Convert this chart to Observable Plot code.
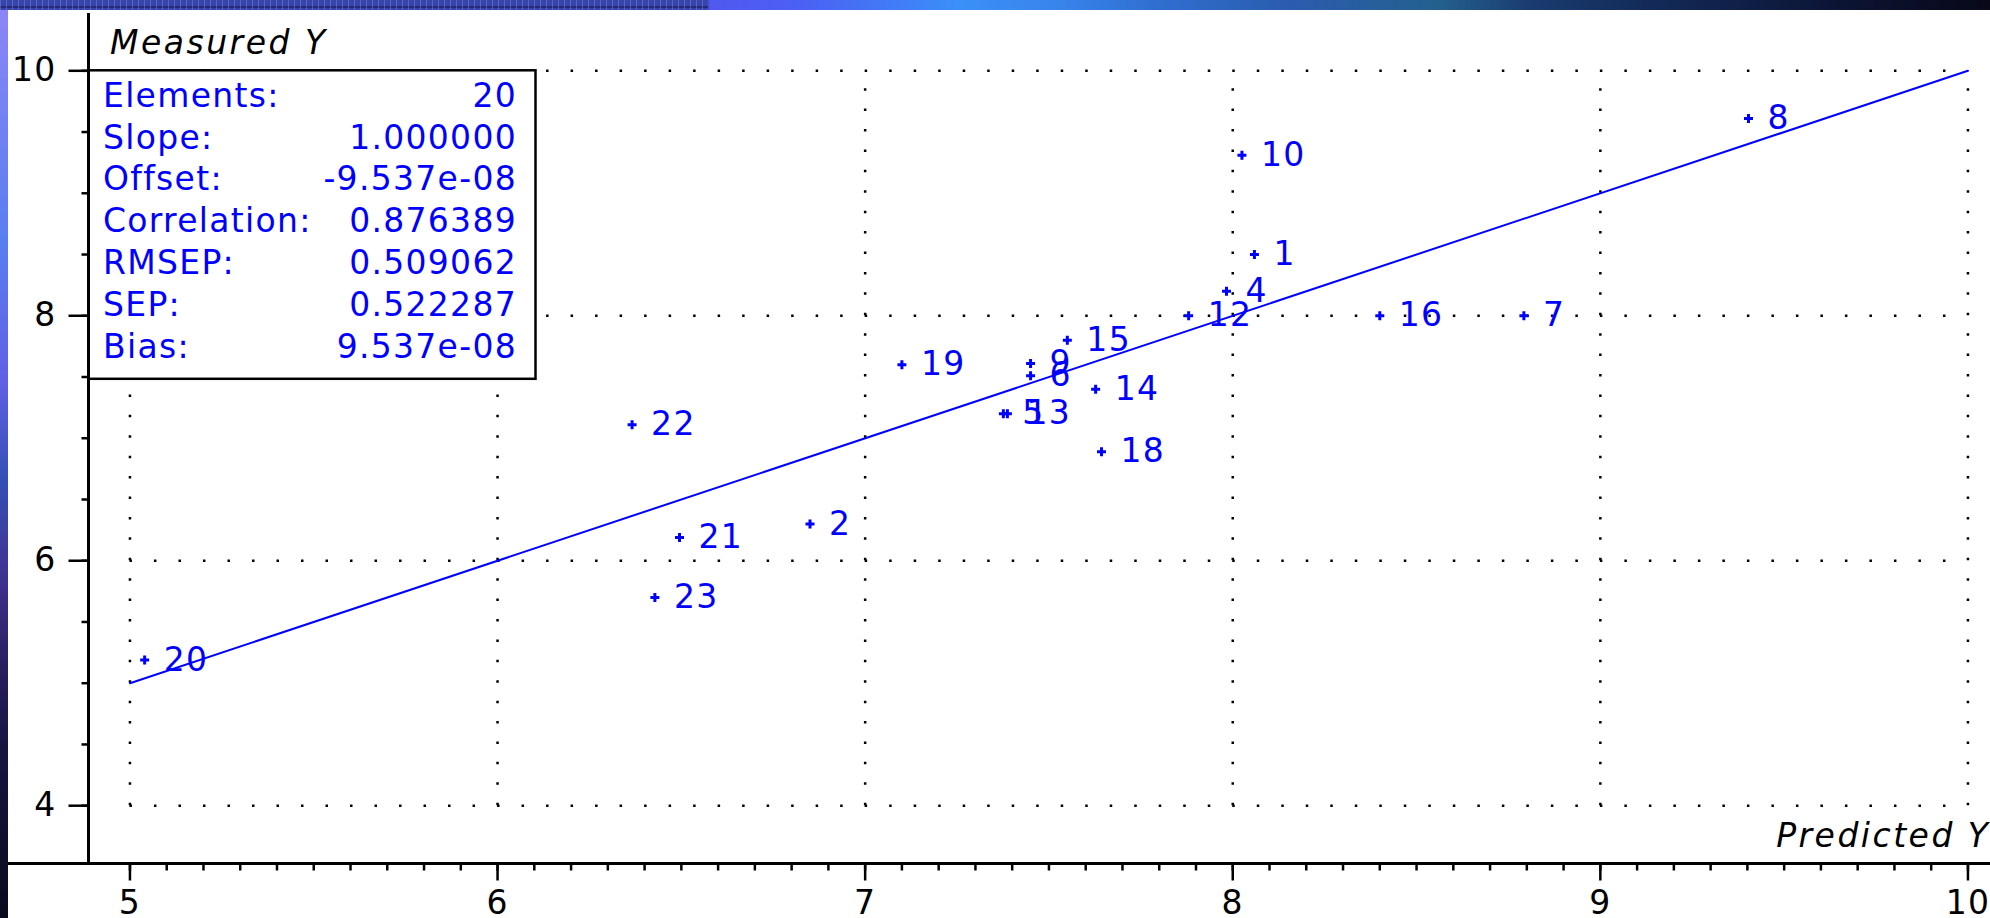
<!DOCTYPE html>
<html>
<head>
<meta charset="utf-8">
<title>Measured vs Predicted Y</title>
<script src="https://cdn.jsdelivr.net/npm/d3@7"></script>
<script src="https://cdn.jsdelivr.net/npm/@observablehq/plot@0.6"></script>
<style>
  html, body { margin: 0; padding: 0; background: #ffffff; }
  #slide { position: relative; width: 1990px; height: 918px; overflow: hidden; background: #ffffff; }
  #topbar {
    position: absolute; left: 0; top: 0; width: 1990px; height: 10px;
    background: linear-gradient(to right,
      #3846ac 0px, #3846ac 707px, #5058f0 710px, #4c60f4 800px, #3a90f8 960px,
      #3884ec 1060px, #3070d2 1150px, #2a5cae 1290px, #24608e 1440px, #1a3c70 1530px,
      #132a58 1650px, #0c1434 1840px, #080818 1990px);
  }
  #topbar .check {
    position: absolute; left: 0; top: 0; width: 708px; height: 10px;
    background:
      repeating-linear-gradient(to right, rgba(120,140,230,0.45) 0 1px, transparent 1px 6px),
      linear-gradient(to bottom, transparent 0 6px, rgba(20,20,80,0.55) 6px 8px, transparent 8px);
  }
  #leftbar {
    position: absolute; left: 0; top: 10px; width: 8px; height: 908px;
    background: linear-gradient(to bottom,
      #8c86f6 0px, #7282f2 110px, #5a7ef0 230px, #6060e6 370px, #3450b4 470px,
      #403494 560px, #2a2062 650px, #151540 740px, #0a0a1e 908px);
  }
  #chart { position: absolute; left: 0; top: 0; }
  #chart svg text { letter-spacing: 1.3px; }
  #chart svg .axis-title text { letter-spacing: 2.5px; }
</style>
</head>
<body>
<div id="slide">
  <div id="chart"></div>
  <div id="topbar"><div class="check"></div></div>
  <div id="leftbar"></div>
</div>
<script>
// Sample identifiers with their predicted and measured Y values
const ids = ["1", "2", "4", "5", "6", "7", "8", "9", "10", "12",
             "13", "14", "15", "16", "18", "19", "20", "21", "22", "23"];
const predicted = [8.059, 6.850, 7.983, 7.376, 7.450, 8.792, 9.403, 7.450, 8.025, 7.880,
                   7.387, 7.627, 7.550, 8.400, 7.643, 7.100, 5.040, 6.495, 6.366, 6.428];
const measured = [8.50, 6.30, 8.20, 7.20, 7.51, 8.00, 9.61, 7.61, 9.31, 8.00,
                  7.20, 7.40, 7.80, 8.00, 6.89, 7.60, 5.19, 6.19, 7.11, 5.70];

// Axis ticks
const xTicks = [5, 6, 7, 8, 9, 10];
const yTicks = [4, 6, 8, 10];
const xMinorTicks = d3.ticks(5, 10, 50);
const yMinorTicks = d3.ticks(4, 10, 12);

// Regression statistics shown in the panel
const statNames = ["Elements:", "Slope:", "Offset:", "Correlation:", "RMSEP:", "SEP:", "Bias:"];
const statValues = ["20", "1.000000", "-9.537e-08", "0.876389", "0.509062", "0.522287", "9.537e-08"];
const slope = 1.0;
const offset = -9.537e-08;
const fitX = [5, 10];

const blue = "#0000ff";
const samples = ids.map((id, i) => ({id, pred: predicted[i], meas: measured[i]}));
const fitLine = fitX.map(x => ({x, y: slope * x + offset}));

// Axis lines: the horizontal one runs under the y axis out to the slide edge
function axisLines(index, scales, values, {width, height, marginLeft, marginTop, marginBottom}) {
  const g = d3.create("svg:g").attr("stroke", "black").attr("stroke-width", 3);
  const yb = height - marginBottom;
  g.append("line").attr("x1", 8).attr("x2", width).attr("y1", yb).attr("y2", yb);
  g.append("line").attr("x1", marginLeft).attr("x2", marginLeft).attr("y1", marginTop).attr("y2", yb);
  return g.node();
}

// Statistics panel pinned to the top-left corner of the grid
function statsPanel(index, {y}, values, {marginLeft}) {
  const g = d3.create("svg:g");
  const left = marginLeft, top = y(d3.max(yTicks));
  const w = 447, h = 308.5, rowGap = 41.8;
  g.append("rect")
    .attr("x", left).attr("y", top).attr("width", w).attr("height", h)
    .attr("fill", "white").attr("stroke", "black").attr("stroke-width", 2.5);
  statNames.forEach((name, i) => {
    const by = top + 36.4 + i * rowGap;
    g.append("text").attr("x", left + 14.5).attr("y", by).attr("text-anchor", "start")
      .attr("fill", blue).text(name);
    g.append("text").attr("x", left + 428.5).attr("y", by).attr("text-anchor", "end")
      .attr("fill", blue).text(statValues[i]);
  });
  return g.node();
}

const intFormat = d3.format("d");

const chart = Plot.plot({
  width: 1990,
  height: 918,
  marginLeft: 88.5,
  marginRight: 0,
  marginTop: 13,
  marginBottom: 54.5,
  style: {fontFamily: "'DejaVu Sans', sans-serif", fontSize: "33px", background: "transparent", color: "black", overflow: "visible"},
  x: {domain: [5, 10], range: [129.45, 1967.45], label: null},
  y: {domain: [4, 10], range: [805.2, 70.3], label: null},
  marks: [
    // dotted grid
    Plot.ruleX(xTicks, {x: d => d, y1: 4, y2: 10, stroke: "black", strokeWidth: 2.5, strokeDasharray: "2.5,17.915"}),
    Plot.ruleY(yTicks, {y: d => d, x1: 5, x2: 10, stroke: "black", strokeWidth: 2.5, strokeDasharray: "2.5,22.007"}),
    statsPanel,
    // fitted line
    Plot.line(fitLine, {x: "x", y: "y", stroke: blue, strokeWidth: 2}),
    // samples
    Plot.dot(samples, {x: "pred", y: "meas", symbol: "plus", r: 3, stroke: blue, strokeWidth: 3}),
    Plot.text(samples, {x: "pred", y: "meas", text: "id", dx: 19, textAnchor: "start", fill: blue, fontSize: 33}),
    // axes
    Plot.axisX(xMinorTicks, {anchor: "bottom", tickSize: 7, strokeWidth: 2.5, fill: "none", label: null}),
    Plot.axisX(xTicks, {anchor: "bottom", tickSize: 17, tickPadding: 9.5, strokeWidth: 2.5, fontSize: 33,
      tickFormat: intFormat, label: null}),
    Plot.axisY(yMinorTicks, {anchor: "left", tickSize: 7, strokeWidth: 2.5, fill: "none", label: null}),
    Plot.axisY(yTicks, {anchor: "left", tickSize: 20, tickPadding: 12.5, strokeWidth: 2.5, fontSize: 33,
      tickFormat: intFormat, label: null}),
    axisLines,
    Plot.text(["Measured Y"], {frameAnchor: "top-left", dx: 21, dy: 40.3, lineAnchor: "bottom", textAnchor: "start",
      fontStyle: "italic", fontSize: 33, fill: "black", className: "axis-title"}),
    Plot.text(["Predicted Y"], {frameAnchor: "bottom-right", dx: 0, dy: -17.5, lineAnchor: "bottom", textAnchor: "end",
      fontStyle: "italic", fontSize: 33, fill: "black", className: "axis-title"})
  ]
});

document.getElementById("chart").appendChild(chart);
</script>
</body>
</html>
